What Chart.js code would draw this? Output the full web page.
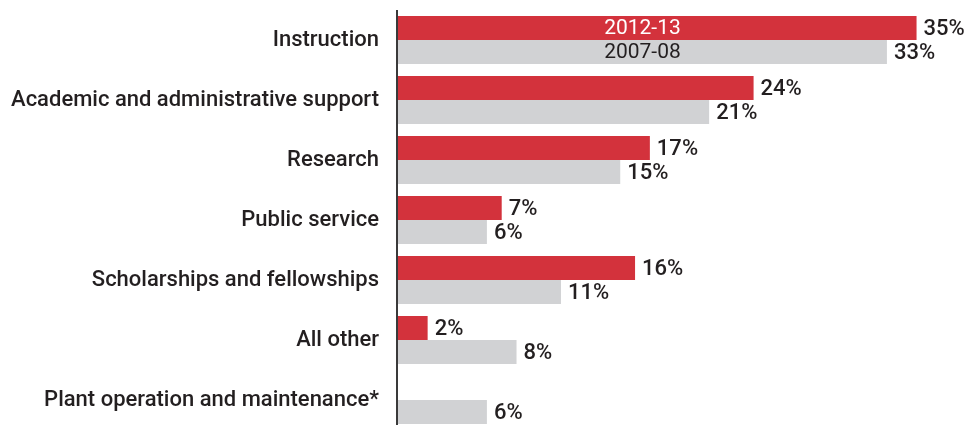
<!DOCTYPE html>
<html>
<head>
<meta charset="utf-8">
<script src="https://cdn.jsdelivr.net/npm/chart.js@4"></script>
<style>
  html, body { margin: 0; padding: 0; background: #ffffff; overflow: hidden; }
  #wrap { width: 970px; height: 430px; }
</style>
</head>
<body>
<div id="wrap"><canvas id="c" width="970" height="430"></canvas></div>
<script>
// Spending categories, top to bottom
const categories = [
  'Instruction',
  'Academic and administrative support',
  'Research',
  'Public service',
  'Scholarships and fellowships',
  'All other',
  'Plant operation and maintenance*'
];
// Share of spending, in percent
const series2012 = [35, 24, 17, 7, 16, 2, null];
const series2007 = [33, 21, 15, 6, 11, 8, 6];
const seriesNames = ['2012-13', '2007-08'];

const FONT = 'Roboto, "Liberation Sans", sans-serif';
const INK = '#231f20';

// Value labels at the end of each bar, plus the year names inside the first pair
const barLabels = {
  id: 'barLabels',
  afterDatasetsDraw(chart) {
    const ctx = chart.ctx;
    ctx.save();
    ctx.textBaseline = 'middle';
    chart.data.datasets.forEach((ds, di) => {
      const meta = chart.getDatasetMeta(di);
      meta.data.forEach((bar, i) => {
        const v = ds.data[i];
        if (v === null || v === undefined) return;
        ctx.font = '500 22px ' + FONT;
        ctx.fillStyle = INK;
        ctx.textAlign = 'left';
        ctx.fillText(v + '%', bar.x + 7, bar.y + 1);
      });
    });
    // year names centred in the first category's bars
    const grayFirst = chart.getDatasetMeta(1).data[0];
    const redFirst = chart.getDatasetMeta(0).data[0];
    const cx = (chart.chartArea.left + grayFirst.x) / 2;
    ctx.font = '21px ' + FONT;
    ctx.textAlign = 'center';
    ctx.fillStyle = '#ffffff';
    ctx.fillText(seriesNames[0], cx, redFirst.y + 1);
    ctx.fillStyle = INK;
    ctx.fillText(seriesNames[1], cx, grayFirst.y + 1);
    ctx.restore();
  }
};

// Vertical baseline at zero
const baseLine = {
  id: 'baseLine',
  afterDatasetsDraw(chart) {
    const { ctx, chartArea } = chart;
    ctx.save();
    ctx.fillStyle = '#3a3a3a';
    ctx.fillRect(chartArea.left - 2, chartArea.top, 2, chartArea.bottom - chartArea.top);
    ctx.restore();
  }
};

new Chart(document.getElementById('c'), {
  type: 'bar',
  data: {
    labels: categories,
    datasets: [
      { label: seriesNames[0], data: series2012, backgroundColor: '#d3323c' },
      { label: seriesNames[1], data: series2007, backgroundColor: '#d1d2d4' }
    ]
  },
  options: {
    indexAxis: 'y',
    responsive: false,
    animation: false,
    events: [],
    layout: { padding: { left: 0, right: 9, top: 10, bottom: 0 } },
    datasets: { bar: { categoryPercentage: 0.8, barPercentage: 1.0, borderWidth: 0 } },
    plugins: { legend: { display: false }, tooltip: { enabled: false } },
    scales: {
      x: { display: false, min: 0, max: 38 },
      y: {
        afterFit(scale) {
          scale.width = 398;
          scale.paddingTop = 0;
          scale.paddingBottom = 0;
        },
        grid: { display: false, drawTicks: false },
        border: { display: false },
        ticks: {
          padding: 19,
          color: INK,
          font: { family: FONT, size: 22, weight: '500' }
        }
      }
    }
  },
  plugins: [barLabels, baseLine]
});
</script>
</body>
</html>
